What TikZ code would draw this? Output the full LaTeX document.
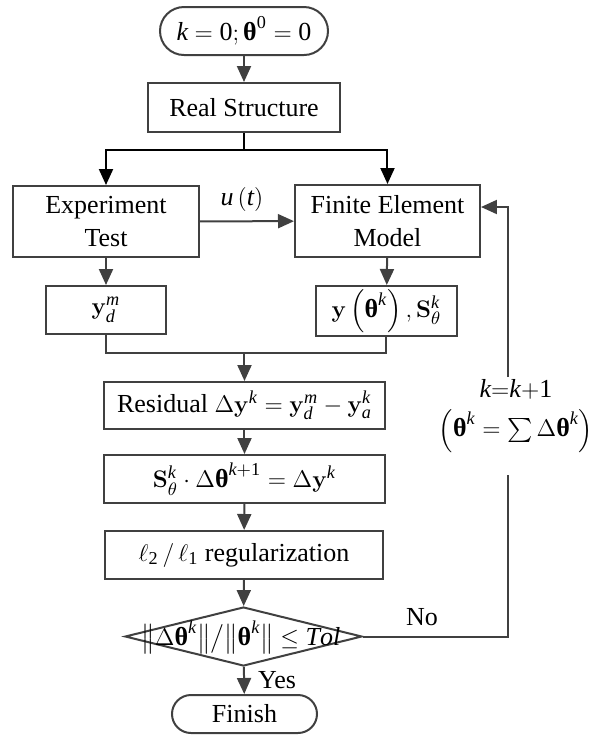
\documentclass[tikz,border=0pt]{standalone}
\usepackage{amsmath}
\usepackage{mathspec}
\setmainfont{Liberation Serif}
\setmathsfont(Digits,Latin){Liberation Serif}
\usetikzlibrary{arrows.meta,shapes.geometric}
\definecolor{linegray}{HTML}{404040}
\newcommand{\btheta}{\text{\bfseries\upshape θ}}
\tikzset{flowchart/.style={
  x=0.5pt,y=-0.5pt,
  >={Triangle[length=8pt,width=7pt]},
  line join=miter,
  font=\fontsize{13}{16.5}\selectfont
},
procbox/.style={draw=linegray,line width=1pt,rectangle,inner sep=0pt,align=center},
termbox/.style={procbox,rounded corners=#1},
flow/.style={->,draw=linegray,line width=1pt},
link/.style={draw=linegray,line width=1pt}
}

\begin{document}
\begin{tikzpicture}[flowchart]
  \useasboundingbox (0,0) rectangle (592,736);
  \node[termbox=12pt,minimum width=84pt,minimum height=24pt] (start) at (244,31) {$k=0;\btheta^{0}=0$};
  \node[procbox,minimum width=96pt,minimum height=24.5pt] (real) at (244,107.5) {Real Structure};
  \node[procbox,minimum width=93pt,minimum height=35.5pt] (exp) at (106,221.5) {Experiment\\Test};
  \node[procbox,minimum width=92.5pt,minimum height=36pt] (fem) at (387.5,221) {Finite Element\\Model};
  \node[procbox,minimum width=60pt,minimum height=24pt] (ym) at (106,310) {$\mathbf{y}_{d}^{m}$};
  \node[procbox,minimum width=70.5pt,minimum height=25pt] (yth) at (386.5,311) {$\mathbf{y}\left(\btheta^{k}\right),\mathbf{S}_{\theta}^{k}$};
  \node[procbox,minimum width=140.5pt,minimum height=23.5pt] (res) at (244.5,405.5) {Residual $\Delta\mathbf{y}^{k}=\mathbf{y}_{d}^{m}-\mathbf{y}_{a}^{k}$};
  \node[procbox,minimum width=140.5pt,minimum height=24pt] (sol) at (244.5,479) {$\mathbf{S}_{\theta}^{k}\cdot\Delta\btheta^{k+1}=\Delta\mathbf{y}^{k}$};
  \node[procbox,minimum width=139pt,minimum height=24pt] (reg) at (244,555) {$\ell_{2}\,/\,\ell_{1}$ regularization};
  \node[draw=linegray,line width=1pt,diamond,inner sep=0pt,minimum width=118.5pt,minimum height=29.5pt] (chk) at (243.5,636.5) {};
  \node (chktxt) at (241,637) {$\bigl\|\Delta\btheta^{k}\bigr\|\big/\bigl\|\btheta^{k}\bigr\|\le Tol$};
  \node[termbox=9.5pt,minimum width=72.5pt,minimum height=19pt] (fin) at (244.5,714) {Finish};
  \node[align=center] (upd) at (516,416) {$k{=}k{+}1$\\[3pt]$\left(\btheta^{k}=\sum\Delta\btheta^{k}\right)$};
  \coordinate (spl) at (244,150);
  \coordinate (mrg) at (244.5,353);
  \coordinate (lb) at (508,636.5);
  \coordinate (gb) at (508,475);
  \coordinate (gt) at (508,377);
  \coordinate (lt) at (508,207);
  \draw[flow] (start) -- (real);
  \draw[line width=1pt] (real.south) -- (spl);
  \draw[->,line width=1pt] (spl) -| (exp.north);
  \draw[->,line width=1pt] (spl) -| (fem.north);
  \draw[flow] (exp) -- (fem);
  \node (ut) at (242,199) {$u\left(t\right)$};
  \draw[flow] (exp) -- (ym);
  \draw[flow] (fem) -- (yth);
  \draw[link] (ym.south) |- (mrg) -| (yth.south);
  \draw[flow] (mrg) -- (res);
  \draw[flow] (res) -- (sol);
  \draw[flow] (sol) -- (reg);
  \draw[flow] (reg) -- (chk);
  \draw[flow] (chk) -- (fin);
  \node (yes) at (277,680) {Yes};
  \draw[link] (chk.east) -- (lb) -- (gb);
  \draw[flow] (gt) -- (lt) -- (lt -| fem.east);
  \node (no) at (422,617) {No};
\end{tikzpicture}
\end{document}
